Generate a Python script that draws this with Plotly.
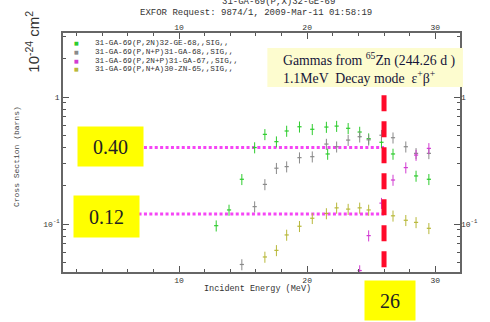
import numpy as np
import plotly.graph_objects as go

# ---- data -------------------------------------------------------------
# 31-GA-69(P,2N)32-GE-68
e_2n = [12.9, 13.9, 14.9, 15.9, 16.7, 17.6, 18.4, 19.4, 20.4, 21.5, 21.6, 22.3, 23.2, 24.1, 24.8, 25.8, 26.7, 28.5, 29.5]
s_2n = [0.097, 0.129, 0.225, 0.40, 0.508, 0.445, 0.54, 0.583, 0.557, 0.58, 0.356, 0.59, 0.567, 0.53, 0.47, 0.44, 0.356, 0.239, 0.225]
# 31-GA-69(P,N+P)31-GA-68
e_np = [14.9, 15.9, 16.7, 17.6, 18.4, 19.4, 20.4, 21.5, 22.3, 23.2, 24.1, 24.8, 25.8, 26.7, 27.7, 28.5, 29.5]
s_np = [0.048, 0.137, 0.205, 0.275, 0.283, 0.333, 0.339, 0.426, 0.406, 0.458, 0.487, 0.46, 0.50, 0.478, 0.406, 0.36, 0.36]
# 31-GA-69(P,2N+P)31-GA-67
e_2np = [24.1, 24.8, 25.8, 26.7, 27.7, 28.5, 29.5]
s_2np = [0.043, 0.081, 0.146, 0.222, 0.278, 0.349, 0.394]
# 31-GA-69(P,N+A)30-ZN-65
e_na = [16.7, 17.6, 18.4, 19.4, 20.4, 21.5, 22.3, 23.2, 24.1, 24.8, 26.7, 27.7, 28.5, 29.5]
s_na = [0.055, 0.062, 0.082, 0.096, 0.111, 0.121, 0.134, 0.131, 0.134, 0.129, 0.116, 0.107, 0.103, 0.0925]

series_names = [
    "31-GA-69(P,2N)32-GE-68,,SIG,,",
    "31-GA-69(P,N+P)31-GA-68,,SIG,,",
    "31-GA-69(P,2N+P)31-GA-67,,SIG,,",
    "31-GA-69(P,N+A)30-ZN-65,,SIG,,",
]
series_colors = ["#2ecc2e", "#8a8a8a", "#d23cd2", "#b8b83a"]

# highlighted values
level_high = 0.40
level_low = 0.12
energy_mark = 26

x_ticks = [10, 20, 30]
y_ticks = [0.1, 1]
y_ticktext = ["10<sup>-1</sup>", "1"]

x_range = [0.94, 31.93]
y_range = [-1.378, 0.504]          # log10 units

# ---- layout geometry (pixels) ----------------------------------------
W, H = 490, 322
ML, MR, MT, MB = 63, 21, 33, 50
PW, PH = W - ML - MR, H - MT - MB


def px(x):
    return (x - ML) / PW


def py(y):
    return (H - MB - y) / PH


MONO = "Liberation Mono"
SERIF = "Liberation Serif"

fig = go.Figure()

# guide lines
for lvl in (level_high, level_low):
    fig.add_trace(go.Scatter(
        x=[2.2, energy_mark], y=[lvl, lvl], mode="lines",
        line=dict(color="#f545f5", width=3, dash="3px,2.4px"),
        hoverinfo="skip", showlegend=False))

# data series
all_e = [e_2n, e_np, e_2np, e_na]
all_s = [s_2n, s_np, s_2np, s_na]
for e, s, c, n in zip(all_e, all_s, series_colors, series_names):
    fig.add_trace(go.Scatter(
        x=e, y=s, mode="markers", name=n, showlegend=False,
        marker=dict(symbol="line-ew", size=3, line=dict(color=c, width=1.2)),
        error_y=dict(type="percent", value=10, color=c, thickness=1, width=0)))

# energy marker line
fig.add_trace(go.Scatter(
    x=[energy_mark, energy_mark], y=[1.03, 10 ** y_range[0]], mode="lines",
    line=dict(color="#ff0a2a", width=5, dash="16px,10px"),
    hoverinfo="skip", showlegend=False))

# invisible trace to carry the top/right label axes
fig.add_trace(go.Scatter(x=[None], y=[None], xaxis="x2", yaxis="y2",
                         showlegend=False, hoverinfo="skip"))

axis_font = dict(family=MONO, size=8, color="#333333")
fig.update_layout(
    width=W, height=H,
    margin=dict(l=ML, r=MR, t=MT, b=MB, pad=0),
    paper_bgcolor="white", plot_bgcolor="white",
    showlegend=False,
    xaxis=dict(range=x_range, tickvals=x_ticks, ticks="inside", ticklen=6,
               tickcolor="#555", showline=True, linecolor="#666", linewidth=1.5,
               mirror="ticks", showgrid=False, zeroline=False, tickfont=axis_font,
               minor=dict(dtick=2, ticks="inside", ticklen=3, tickcolor="#555", showgrid=False)),
    yaxis=dict(type="log", range=y_range, tickvals=y_ticks, ticktext=y_ticktext,
               ticks="inside", ticklen=6, tickcolor="#555", showline=True,
               linecolor="#666", linewidth=1.5, mirror="ticks", showgrid=False,
               zeroline=False, tickfont=axis_font,
               minor=dict(tickvals=[0.05, 0.06, 0.07, 0.08, 0.09, 0.2, 0.3, 0.4, 0.5,
                                    0.6, 0.7, 0.8, 0.9, 2, 3],
                          ticks="inside", ticklen=3, tickcolor="#555", showgrid=False)),
    xaxis2=dict(overlaying="x", side="top", range=x_range, tickvals=x_ticks,
                ticks="", showline=False, showgrid=False, zeroline=False,
                tickfont=axis_font),
    yaxis2=dict(overlaying="y", side="right", type="log", range=y_range,
                tickvals=y_ticks, ticktext=y_ticktext, ticks="", showline=False,
                showgrid=False, zeroline=False, tickfont=axis_font),
)

ann = []
# header lines
ann.append(dict(xref="paper", yref="paper", x=px(283), y=py(2), text="31-GA-69(P,X)32-GE-69",
                showarrow=False, font=dict(family=MONO, size=9, color="#333"),
                xanchor="center", yanchor="middle"))
ann.append(dict(xref="paper", yref="paper", x=px(260), y=py(12.5),
                text="EXFOR Request: 9874/1, 2009-Mar-11 01:58:19",
                showarrow=False, font=dict(family=MONO, size=9, color="#333"),
                xanchor="center", yanchor="middle"))
# legend
for i, (n, c) in enumerate(zip(series_names, series_colors)):
    yy = 43 + 8.8 * i
    ann.append(dict(xref="paper", yref="paper", x=px(77), y=py(yy), text="■",
                    showarrow=False, font=dict(family="DejaVu Sans", size=5, color=c),
                    xanchor="center", yanchor="middle"))
    ann.append(dict(xref="paper", yref="paper", x=px(94), y=py(yy), text=n,
                    showarrow=False, font=dict(family=MONO, size=7.7, color="#333"),
                    xanchor="left", yanchor="middle"))
# axis titles
ann.append(dict(xref="paper", yref="paper", x=px(31), y=py(42),
                text="10<sup>-24</sup> cm<sup>2</sup>", textangle=-90, showarrow=False,
                font=dict(family="Liberation Sans", size=15, color="#333"),
                xanchor="center", yanchor="middle"))
ann.append(dict(xref="paper", yref="paper", x=px(15), y=py(157),
                text="Cross Section (barns)", textangle=-90, showarrow=False,
                font=dict(family=MONO, size=8, color="#444"),
                xanchor="center", yanchor="middle"))
ann.append(dict(xref="paper", yref="paper", x=px(262), y=py(289),
                text="Incident Energy (MeV)", showarrow=False,
                font=dict(family=MONO, size=8.5, color="#333"),
                xanchor="center", yanchor="middle"))
# decay info text (panel drawn as a shape below)
ann.append(dict(xref="paper", yref="paper", x=px(286), y=py(68),
                text="Gammas from <sup>65</sup>Zn (244.26 d )<br>1.1MeV  Decay mode  ε<sup>+</sup>β<sup>+</sup>",
                showarrow=False, align="left",
                font=dict(family=SERIF, size=13.8, color="#15153a"),
                xanchor="left", yanchor="middle"))
# value boxes
ann.append(dict(xref="paper", yref="y", x=px(111.5), y=np.log10(level_high), yshift=1,
                text=f"{level_high:.2f}", showarrow=False, width=63, height=37,
                bgcolor="#ffff00", font=dict(family=SERIF, size=20, color="#222"),
                xanchor="center", yanchor="middle"))
ann.append(dict(xref="paper", yref="y", x=px(107.5), y=np.log10(level_low), yshift=-3,
                text=f"{level_low:.2f}", showarrow=False, width=63, height=39,
                bgcolor="#ffff00", font=dict(family=SERIF, size=20, color="#222"),
                xanchor="center", yanchor="middle"))
ann.append(dict(xref="x", yref="paper", x=energy_mark, xshift=6, y=py(300),
                text=f"{energy_mark}", showarrow=False, width=48, height=37,
                bgcolor="#ffff00", font=dict(family=SERIF, size=20, color="#222"),
                xanchor="center", yanchor="middle"))
fig.update_layout(annotations=ann)

# light-yellow panel behind the decay info text
fig.add_shape(type="rect", xref="paper", yref="paper",
              x0=px(272), x1=px(472), y0=py(87), y1=py(48),
              fillcolor="#fdfccf", line=dict(width=0), layer="above")

fig.write_html("out.html")
